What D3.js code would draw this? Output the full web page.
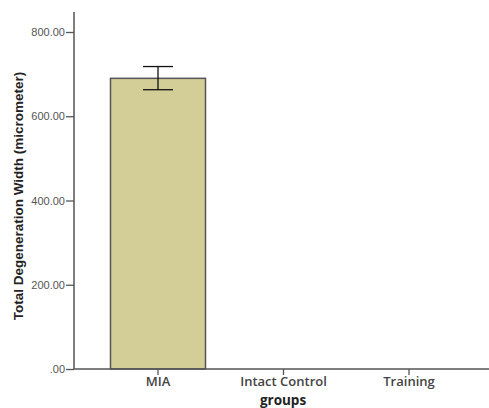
<!DOCTYPE html>
<html>
<head>
<meta charset="utf-8">
<script src="https://cdn.jsdelivr.net/npm/d3@7"></script>
<style>
  html, body { margin: 0; padding: 0; background: #fff; }
  svg { display: block; }
</style>
</head>
<body>
<svg id="chart" width="489" height="408"></svg>
<script>
// Group means with error bar limits (micrometer)
const groups = ["MIA", "Intact Control", "Training"];
const means = [690, 0, 0];
const errLow = [663, 0, 0];
const errHigh = [718, 0, 0];
const yTicks = [0, 200, 400, 600, 800];
const yTickLabels = [".00", "200.00", "400.00", "600.00", "800.00"];

const svg = d3.select("#chart");

const y = d3.scaleLinear().domain([0, 800]).range([369, 32]);
const x = d3.scaleBand().domain(groups).range([110.5, 456.5]).paddingInner(0.243).paddingOuter(0);

// Bars
svg.selectAll("rect.bar")
  .data(groups.map((g, i) => ({ g, v: means[i] })).filter(d => d.v > 0))
  .join("rect")
  .attr("class", "bar")
  .attr("x", d => x(d.g))
  .attr("y", d => y(d.v))
  .attr("width", x.bandwidth())
  .attr("height", d => y(0) - y(d.v))
  .attr("fill", "#d3ce98")
  .attr("stroke", "#555")
  .attr("stroke-width", 1.5);

// Error bars
const eb = groups.map((g, i) => ({ g, lo: errLow[i], hi: errHigh[i] })).filter(d => d.hi > 0);
const cap = 15;
const ebG = svg.append("g").attr("stroke", "#111").attr("stroke-width", 1.3);
eb.forEach(d => {
  const cx = x(d.g) + x.bandwidth() / 2;
  ebG.append("line").attr("x1", cx).attr("x2", cx).attr("y1", y(d.hi)).attr("y2", y(d.lo));
  ebG.append("line").attr("x1", cx - cap).attr("x2", cx + cap).attr("y1", y(d.hi)).attr("y2", y(d.hi));
  ebG.append("line").attr("x1", cx - cap).attr("x2", cx + cap).attr("y1", y(d.lo)).attr("y2", y(d.lo));
});

// Y axis
const yAxis = d3.axisLeft(y).tickValues(yTicks)
  .tickFormat((d, i) => yTickLabels[i]).tickSize(8).tickPadding(1);
const yg = svg.append("g").attr("transform", "translate(74,0)").call(yAxis);
yg.select(".domain").remove();
yg.append("line").attr("x1", 0).attr("x2", 0).attr("y1", 12).attr("y2", 369)
  .attr("stroke", "#555").attr("stroke-width", 1.5);
yg.selectAll(".tick line").attr("stroke", "#555").attr("stroke-width", 1.3);
yg.selectAll(".tick text")
  .attr("fill", "#555").attr("font-family", "Liberation Sans, Arial, sans-serif")
  .attr("font-size", 11);

// X axis
const xAxis = d3.axisBottom(x).tickSize(6).tickPadding(2);
const xg = svg.append("g").attr("transform", "translate(0,369)").call(xAxis);
xg.select(".domain").remove();
xg.append("line").attr("x1", 74).attr("x2", 489).attr("y1", 0).attr("y2", 0)
  .attr("stroke", "#555").attr("stroke-width", 1.5);
xg.selectAll(".tick line").attr("stroke", "#555").attr("stroke-width", 1.3);
xg.selectAll(".tick text")
  .attr("fill", "#444").attr("font-family", "Open Sans, Liberation Sans, sans-serif")
  .attr("font-weight", 600).attr("font-size", 13);

// Axis titles
svg.append("text")
  .attr("x", 283).attr("y", 405)
  .attr("text-anchor", "middle")
  .attr("font-family", "Open Sans, Liberation Sans, sans-serif")
  .attr("font-weight", "bold").attr("font-size", 13.5).attr("fill", "#222")
  .text("groups");

svg.append("text")
  .attr("transform", "translate(23,196) rotate(-90)")
  .attr("text-anchor", "middle")
  .attr("font-family", "Liberation Sans, Arial, sans-serif")
  .attr("font-weight", "bold").attr("font-size", 13.5).attr("fill", "#222")
  .text("Total Degeneration Width (micrometer)");
</script>
</body>
</html>
